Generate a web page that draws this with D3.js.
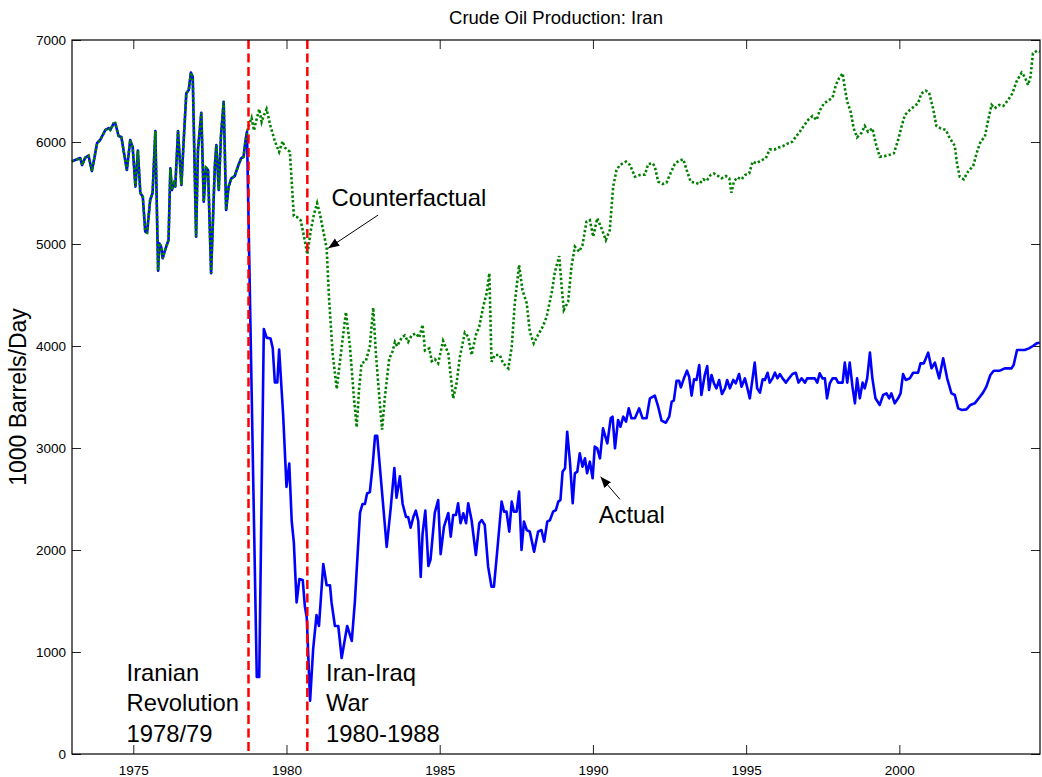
<!DOCTYPE html>
<html>
<head>
<meta charset="utf-8">
<script src="https://cdn.jsdelivr.net/npm/d3@7"></script>
<style>
  body { margin: 0; background: #fff; }
  text { font-family: "Liberation Sans", Arial, Helvetica, sans-serif; fill: #000; }
</style>
</head>
<body>
<div id="chart"></div>
<script>
// [year, 1000 barrels/day]
// common history, before the revolution
const history = [
  [1973.00, 5810], [1973.11, 5823], [1973.27, 5843], [1973.33, 5774], [1973.43, 5846], [1973.54, 5866],
  [1973.65, 5715], [1973.82, 5990], [1973.92, 6020], [1974.09, 6118], [1974.20, 6137], [1974.25, 6118],
  [1974.36, 6183], [1974.41, 6186], [1974.52, 6059], [1974.61, 6049], [1974.79, 5725], [1974.90, 6020],
  [1974.98, 5948], [1975.07, 5562], [1975.15, 5915], [1975.23, 5500], [1975.31, 5464], [1975.39, 5121],
  [1975.45, 5111], [1975.55, 5431], [1975.63, 5500], [1975.72, 6108], [1975.81, 4738], [1975.85, 5007],
  [1975.91, 4974], [1975.96, 4860], [1976.02, 4925], [1976.15, 5039], [1976.21, 5742], [1976.26, 5529],
  [1976.32, 5595], [1976.37, 5562], [1976.46, 6108], [1976.57, 5578], [1976.64, 5987], [1976.73, 6477],
  [1976.81, 6510], [1976.88, 6680], [1976.94, 6640], [1977.05, 5072], [1977.11, 5921], [1977.22, 6287],
  [1977.30, 5415], [1977.37, 5748], [1977.44, 5725], [1977.54, 4713], [1977.66, 5758], [1977.71, 5970],
  [1977.79, 5529], [1977.86, 6052], [1977.95, 6395], [1978.03, 5333], [1978.11, 5562], [1978.20, 5644],
  [1978.31, 5666], [1978.42, 5765], [1978.52, 5840], [1978.60, 5856], [1978.65, 5987], [1978.71, 6101]
];

const actual = [
  [1979.03, 755], [1979.11, 755], [1979.26, 4167], [1979.35, 4082], [1979.48, 4073], [1979.55, 3980],
  [1979.62, 3642], [1979.70, 3642], [1979.76, 3965], [1979.89, 3328], [1980.00, 2618], [1980.09, 2847],
  [1980.17, 2284], [1980.24, 2072], [1980.33, 1486], [1980.42, 1716], [1980.53, 1706], [1980.60, 1445],
  [1980.66, 1343], [1980.77, 523], [1980.87, 1029], [1980.98, 1363], [1981.06, 1255], [1981.20, 1863],
  [1981.31, 1654], [1981.42, 1654], [1981.47, 1486], [1981.58, 1255], [1981.69, 1255], [1981.80, 941],
  [1981.98, 1255], [1982.13, 1108], [1982.23, 1486], [1982.40, 2366], [1982.48, 2451], [1982.56, 2451],
  [1982.63, 2554], [1982.72, 2568], [1982.81, 2826], [1982.89, 3119], [1982.96, 3119], [1983.14, 2490],
  [1983.27, 2030], [1983.40, 2408], [1983.52, 2804], [1983.59, 2512], [1983.70, 2722], [1983.79, 2451],
  [1983.90, 2324], [1983.97, 2324], [1984.05, 2219], [1984.14, 2324], [1984.22, 2386], [1984.30, 2284],
  [1984.38, 1737], [1984.44, 2157], [1984.53, 2386], [1984.63, 1843], [1984.70, 1905], [1984.84, 2366],
  [1984.95, 2490], [1985.03, 1960], [1985.14, 2230], [1985.28, 2363], [1985.36, 2131], [1985.44, 2343],
  [1985.53, 2343], [1985.60, 2458], [1985.68, 2262], [1985.77, 2360], [1985.86, 2262], [1985.93, 2458],
  [1986.04, 2294], [1986.18, 1951], [1986.29, 2262], [1986.37, 2294], [1986.47, 2245], [1986.58, 1837],
  [1986.69, 1640], [1986.77, 1640], [1986.88, 2000], [1987.02, 2474], [1987.10, 2376], [1987.18, 2376],
  [1987.27, 2180], [1987.35, 2474], [1987.42, 2376], [1987.51, 2376], [1987.59, 2572], [1987.67, 2000],
  [1987.75, 2278], [1987.84, 2196], [1987.94, 2180], [1988.08, 1984], [1988.21, 2180], [1988.32, 2196],
  [1988.41, 2082], [1988.51, 2278], [1988.60, 2294], [1988.70, 2376], [1988.79, 2392], [1988.87, 2474],
  [1988.94, 2490], [1989.01, 2768], [1989.09, 2801], [1989.16, 3160], [1989.25, 2866], [1989.34, 2458],
  [1989.41, 2752], [1989.49, 2768], [1989.57, 2948], [1989.66, 2817], [1989.74, 2899], [1989.81, 2752],
  [1989.90, 2866], [1989.99, 2703], [1990.06, 3013], [1990.14, 2997], [1990.23, 2899], [1990.33, 3193],
  [1990.47, 3046], [1990.58, 3291], [1990.64, 3307], [1990.72, 2997], [1990.82, 3274], [1990.90, 3209],
  [1990.99, 3307], [1991.08, 3258], [1991.17, 3389], [1991.26, 3291], [1991.37, 3291], [1991.51, 3389],
  [1991.62, 3291], [1991.75, 3291], [1991.86, 3487], [1992.02, 3513], [1992.13, 3405], [1992.24, 3268],
  [1992.38, 3248], [1992.49, 3307], [1992.57, 3454], [1992.64, 3464], [1992.73, 3660], [1992.81, 3660],
  [1992.87, 3595], [1992.97, 3683], [1993.07, 3758], [1993.14, 3699], [1993.22, 3513], [1993.30, 3673],
  [1993.38, 3667], [1993.47, 3814], [1993.54, 3520], [1993.65, 3716], [1993.73, 3804], [1993.79, 3569],
  [1993.87, 3716], [1993.95, 3634], [1994.03, 3585], [1994.12, 3667], [1994.21, 3529], [1994.31, 3585],
  [1994.38, 3667], [1994.47, 3585], [1994.58, 3667], [1994.66, 3634], [1994.77, 3725], [1994.85, 3601],
  [1994.96, 3683], [1995.03, 3601], [1995.12, 3487], [1995.21, 3683], [1995.28, 3837], [1995.36, 3585],
  [1995.45, 3543], [1995.54, 3673], [1995.61, 3667], [1995.70, 3738], [1995.77, 3641], [1995.86, 3683],
  [1995.94, 3738], [1996.02, 3683], [1996.10, 3725], [1996.19, 3683], [1996.30, 3641], [1996.40, 3683],
  [1996.51, 3725], [1996.62, 3738], [1996.71, 3641], [1996.81, 3683], [1996.92, 3641], [1996.99, 3683],
  [1997.24, 3683], [1997.32, 3641], [1997.40, 3732], [1997.49, 3683], [1997.57, 3683], [1997.64, 3487],
  [1997.73, 3634], [1997.82, 3683], [1997.93, 3683], [1998.00, 3641], [1998.15, 3641], [1998.22, 3837],
  [1998.30, 3641], [1998.38, 3837], [1998.47, 3601], [1998.55, 3438], [1998.62, 3683], [1998.71, 3487],
  [1998.80, 3641], [1998.87, 3585], [1998.95, 3683], [1999.04, 3935], [1999.12, 3683], [1999.22, 3487],
  [1999.36, 3422], [1999.47, 3520], [1999.58, 3536], [1999.67, 3487], [1999.74, 3536], [1999.85, 3438],
  [1999.96, 3487], [2000.04, 3536], [2000.12, 3725], [2000.21, 3667], [2000.34, 3683], [2000.45, 3738],
  [2000.61, 3738], [2000.69, 3830], [2000.80, 3830], [2000.94, 3935], [2001.05, 3781], [2001.16, 3837],
  [2001.30, 3683], [2001.43, 3879], [2001.56, 3683], [2001.70, 3536], [2001.81, 3520], [2001.92, 3389],
  [2002.03, 3373], [2002.19, 3379], [2002.32, 3422], [2002.46, 3438], [2002.63, 3503], [2002.73, 3543],
  [2002.84, 3601], [2002.97, 3716], [2003.08, 3758], [2003.28, 3758], [2003.44, 3781], [2003.66, 3781],
  [2003.73, 3814], [2003.84, 3961], [2004.09, 3961], [2004.23, 3977], [2004.36, 4000], [2004.48, 4026],
  [2004.58, 4032]
];

const counterfactual = [
  [1978.81, 6196], [1978.86, 6237], [1978.94, 6112], [1979.00, 6196], [1979.11, 6322], [1979.19, 6196],
  [1979.26, 6259], [1979.35, 6322], [1979.48, 6154], [1979.62, 6008], [1979.76, 5903], [1979.87, 6008],
  [1979.95, 5945], [1980.11, 5903], [1980.24, 5274], [1980.35, 5263], [1980.46, 5233], [1980.55, 5107],
  [1980.68, 4898], [1980.79, 5128], [1980.90, 5296], [1981.00, 5400], [1981.09, 5296], [1981.20, 5128],
  [1981.31, 4960], [1981.39, 4458], [1981.51, 3914], [1981.64, 3579], [1981.77, 3914], [1981.94, 4333],
  [1982.07, 3998], [1982.20, 3496], [1982.29, 3203], [1982.37, 3579], [1982.45, 3830], [1982.59, 3852],
  [1982.72, 3998], [1982.83, 4375], [1982.92, 3914], [1983.03, 3496], [1983.12, 3181], [1983.21, 3496],
  [1983.35, 3872], [1983.46, 3947], [1983.54, 4040], [1983.61, 3998], [1983.76, 4082], [1983.86, 4103],
  [1983.97, 4040], [1984.08, 4103], [1984.22, 4124], [1984.33, 4082], [1984.44, 4208], [1984.52, 3956],
  [1984.66, 3977], [1984.74, 3852], [1984.84, 3872], [1984.95, 3830], [1985.11, 4050], [1985.28, 3928],
  [1985.44, 3487], [1985.55, 3634], [1985.66, 3896], [1985.82, 4131], [1985.93, 4091], [1986.04, 3912],
  [1986.18, 4108], [1986.29, 4189], [1986.42, 4385], [1986.53, 4517], [1986.62, 4713], [1986.69, 3846],
  [1986.80, 3912], [1986.96, 3912], [1987.07, 3830], [1987.24, 3781], [1987.35, 3993], [1987.45, 4419],
  [1987.59, 4794], [1987.70, 4549], [1987.84, 4419], [1987.94, 4140], [1988.07, 4026], [1988.21, 4108],
  [1988.36, 4189], [1988.49, 4287], [1988.65, 4517], [1988.76, 4728], [1988.90, 4882], [1988.98, 4581],
  [1989.05, 4353], [1989.19, 4434], [1989.30, 4778], [1989.41, 4974], [1989.55, 4925], [1989.66, 4990],
  [1989.79, 5219], [1989.90, 5235], [1990.01, 5072], [1990.14, 5252], [1990.28, 5154], [1990.42, 5039],
  [1990.55, 5137], [1990.66, 5562], [1990.77, 5725], [1990.88, 5774], [1991.08, 5807], [1991.21, 5774],
  [1991.37, 5660], [1991.53, 5676], [1991.70, 5680], [1991.80, 5784], [1991.95, 5791], [1992.02, 5758],
  [1992.13, 5611], [1992.27, 5588], [1992.40, 5601], [1992.53, 5692], [1992.67, 5784], [1992.81, 5817],
  [1992.95, 5830], [1993.06, 5725], [1993.19, 5611], [1993.33, 5601], [1993.47, 5588], [1993.60, 5634],
  [1993.71, 5620], [1993.84, 5676], [1993.95, 5692], [1994.09, 5666], [1994.20, 5644], [1994.34, 5666],
  [1994.45, 5644], [1994.52, 5503], [1994.60, 5611], [1994.71, 5653], [1994.85, 5634], [1994.96, 5676],
  [1995.10, 5692], [1995.21, 5807], [1995.34, 5791], [1995.47, 5817], [1995.64, 5840], [1995.77, 5928],
  [1995.94, 5928], [1996.08, 5948], [1996.21, 5961], [1996.37, 5987], [1996.51, 6003], [1996.64, 6059],
  [1996.75, 6101], [1996.88, 6157], [1997.02, 6216], [1997.17, 6255], [1997.30, 6216], [1997.40, 6307],
  [1997.54, 6379], [1997.68, 6405], [1997.82, 6437], [1997.93, 6559], [1998.03, 6624], [1998.15, 6673],
  [1998.22, 6529], [1998.30, 6395], [1998.41, 6297], [1998.51, 6134], [1998.62, 6046], [1998.77, 6091],
  [1998.87, 6157], [1998.98, 6101], [1999.12, 6134], [1999.23, 5987], [1999.36, 5856], [1999.53, 5863],
  [1999.67, 5873], [1999.82, 5889], [1999.96, 6020], [2000.07, 6150], [2000.18, 6265], [2000.34, 6314],
  [2000.50, 6353], [2000.61, 6379], [2000.72, 6477], [2000.86, 6503], [2000.97, 6484], [2001.10, 6330],
  [2001.21, 6157], [2001.34, 6134], [2001.52, 6118], [2001.62, 6052], [2001.81, 5961], [2001.88, 5791],
  [2001.97, 5660], [2002.10, 5634], [2002.24, 5709], [2002.41, 5765], [2002.52, 5889], [2002.65, 6003],
  [2002.79, 6052], [2002.90, 6216], [2003.01, 6363], [2003.11, 6330], [2003.26, 6363], [2003.39, 6353],
  [2003.55, 6412], [2003.69, 6477], [2003.82, 6591], [2003.99, 6680], [2004.09, 6640], [2004.20, 6559],
  [2004.28, 6640], [2004.36, 6869], [2004.50, 6895], [2004.58, 6885]
];

// revolution (Oct 1978) and start of the war (Sep 1980)
const events = [1978.76, 1980.68];

const xTicks = [1975, 1980, 1985, 1990, 1995, 2000];
const yTicks = [0, 1000, 2000, 3000, 4000, 5000, 6000, 7000];

const width = 1042;
const height = 777;
const margin = {top: 40, right: 2, bottom: 23, left: 72};

const x = d3.scaleLinear()
  .domain([1973, 2004.59])
  .range([margin.left, width - margin.right]);

const y = d3.scaleLinear()
  .domain([0, 7000])
  .range([height - margin.bottom, margin.top]);

const svg = d3.select('#chart').append('svg')
  .attr('width', width)
  .attr('height', height)
  .style('background', '#fff');

const tickLen = 9;
const fmt = d3.format('d');

// matlab style box: ticks point inwards on all four sides
const xAxis = (g, axis, yPos) => g
  .attr('transform', `translate(0,${yPos})`)
  .call(axis(x).tickValues(xTicks).tickSize(tickLen).tickSizeOuter(0).tickFormat(fmt))
  .call(g => g.select('.domain').remove())
  .call(g => g.selectAll('.tick line').attr('stroke', '#222'));

const yAxis = (g, axis, xPos) => g
  .attr('transform', `translate(${xPos},0)`)
  .call(axis(y).tickValues(yTicks).tickSize(tickLen).tickSizeOuter(0).tickFormat(fmt))
  .call(g => g.select('.domain').remove())
  .call(g => g.selectAll('.tick line').attr('stroke', '#222'));

svg.append('g')
  .style('font-size', '13.5px')
  .call(g => xAxis(g, d3.axisTop, y(0)))
  .call(g => g.selectAll('.tick text').attr('y', 11).attr('dy', '0.71em'));

svg.append('g')
  .call(g => xAxis(g, d3.axisBottom, y(7000)))
  .call(g => g.selectAll('.tick text').remove());

svg.append('g')
  .style('font-size', '13.5px')
  .call(g => yAxis(g, d3.axisRight, x.range()[0]))
  .call(g => g.selectAll('.tick text').attr('x', -6).attr('text-anchor', 'end'));

svg.append('g')
  .call(g => yAxis(g, d3.axisLeft, x.range()[1]))
  .call(g => g.selectAll('.tick text').remove());

const line = d3.line()
  .x(d => x(d[0]))
  .y(d => y(d[1]));

const plot = svg.append('g');

plot.append('path')
  .datum(history.concat(actual))
  .attr('fill', 'none')
  .attr('stroke', '#0000ff')
  .attr('stroke-width', 2.6)
  .attr('stroke-linejoin', 'round')
  .attr('d', line);

plot.append('path')
  .datum(history.concat(counterfactual))
  .attr('fill', 'none')
  .attr('stroke', '#008000')
  .attr('stroke-width', 2.6)
  .attr('stroke-dasharray', '2.4,2.2')
  .attr('d', line);

plot.selectAll('.event').data(events).enter()
  .append('line')
    .attr('class', 'event')
    .attr('x1', d => x(d))
    .attr('x2', d => x(d))
    .attr('y1', y(7000))
    .attr('y2', y(0))
    .attr('stroke', '#ff0000')
    .attr('stroke-width', 2.5)
    .attr('stroke-dasharray', '9,4.5');

// frame
svg.append('rect')
  .attr('x', x.range()[0])
  .attr('y', y(7000))
  .attr('width', x.range()[1] - x.range()[0])
  .attr('height', y(0) - y(7000))
  .attr('fill', 'none')
  .attr('stroke', '#000')
  .attr('stroke-width', 1.2);

svg.append('text')
  .attr('x', (x.range()[0] + x.range()[1]) / 2)
  .attr('y', 24)
  .attr('text-anchor', 'middle')
  .style('font-size', '18.5px')
  .text('Crude Oil Production: Iran');

svg.append('text')
  .attr('transform', `translate(26,${(y(0) + y(7000)) / 2}) rotate(-90)`)
  .attr('text-anchor', 'middle')
  .style('font-size', '23px')
  .text('1000 Barrels/Day');

// annotations, anchored in data units
const notes = [
  {lines: ['Iranian', 'Revolution', '1978/79'], at: [1974.78, 720]},
  {lines: ['Iran-Iraq', 'War', '1980-1988'], at: [1981.29, 720]},
  {lines: ['Counterfactual'], at: [1981.47, 5376]},
  {lines: ['Actual'], at: [1990.19, 2268]}
];

notes.forEach(n => {
  const t = svg.append('text')
    .attr('x', x(n.at[0]))
    .attr('y', y(n.at[1]))
    .style('font-size', '23.8px');
  n.lines.forEach((s, i) => {
    t.append('tspan')
      .attr('x', x(n.at[0]))
      .attr('dy', i ? 30.5 : 0)
      .text(s);
  });
});

const arrows = [
  {from: [1982.99, 5284], to: [1981.36, 4958]},
  {from: [1990.88, 2497], to: [1990.25, 2719]}
];

svg.append('defs').append('marker')
  .attr('id', 'head')
  .attr('viewBox', '0 0 10 10')
  .attr('refX', 10)
  .attr('refY', 5)
  .attr('markerWidth', 11)
  .attr('markerHeight', 11)
  .attr('markerUnits', 'userSpaceOnUse')
  .attr('orient', 'auto')
  .append('path')
    .attr('d', 'M0,1 L10,5 L0,9 Z')
    .attr('fill', '#000');

svg.selectAll('.arrow').data(arrows).enter()
  .append('line')
    .attr('class', 'arrow')
    .attr('x1', d => x(d.from[0]))
    .attr('y1', d => y(d.from[1]))
    .attr('x2', d => x(d.to[0]))
    .attr('y2', d => y(d.to[1]))
    .attr('stroke', '#000')
    .attr('stroke-width', 1)
    .attr('marker-end', 'url(#head)');
</script>
</body>
</html>
